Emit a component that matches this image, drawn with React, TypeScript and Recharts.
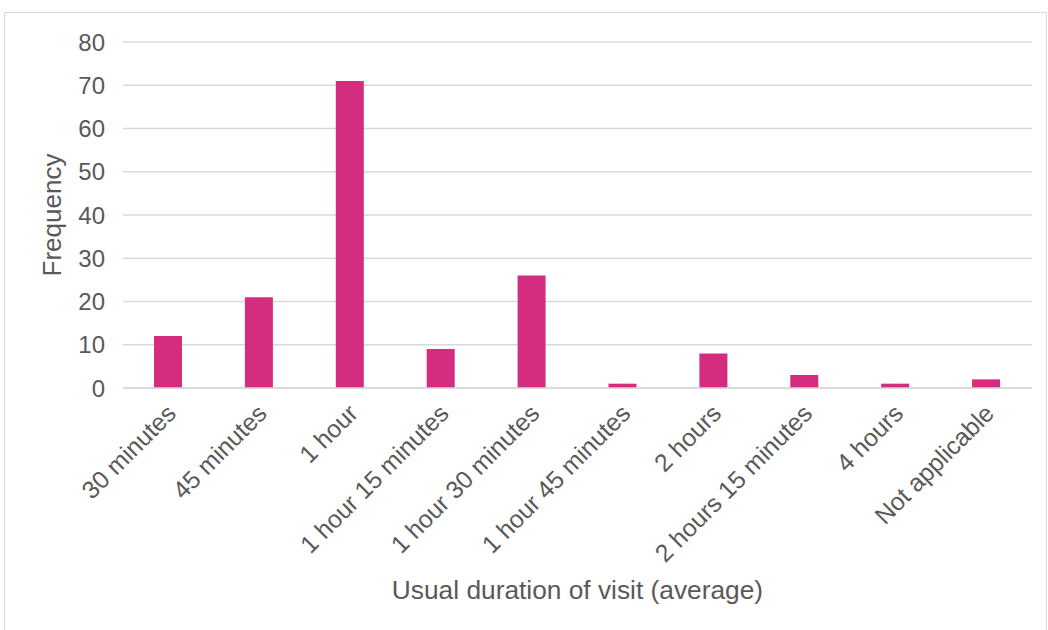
import React from "react";
import { BarChart, Bar, XAxis, YAxis, CartesianGrid } from "recharts";

const categories = [
  "30 minutes",
  "45 minutes",
  "1 hour",
  "1 hour 15 minutes",
  "1 hour 30 minutes",
  "1 hour 45 minutes",
  "2 hours",
  "2 hours 15 minutes",
  "4 hours",
  "Not applicable",
];
const frequencies = [12, 21, 71, 9, 26, 1, 8, 3, 1, 2];
const yTicks = [0, 10, 20, 30, 40, 50, 60, 70, 80];

const data = categories.map((c, i) => ({ name: c, value: frequencies[i] }));

const FONT = '"Liberation Sans", Arial, sans-serif';
const TEXT = "#595959";

const XTick = (props: any) => {
  const { x, y, payload } = props;
  return (
    <g transform={`translate(${x + 9},${y + 19})`}>
      <text
        x={0}
        y={0}
        transform="rotate(-45)"
        textAnchor="end"
        fill={TEXT}
        fontSize={24.7}
        fontFamily={FONT}
      >
        {payload.value}
      </text>
    </g>
  );
};

export default function App() {
  return (
    <div style={{ position: "absolute", left: 0, top: 0, width: 1048, height: 630, background: "#fff" }}>
      <div
        style={{
          position: "absolute",
          left: 4,
          top: 12,
          width: 1043,
          height: 640,
          border: "1px solid #D9D9D9",
          boxSizing: "border-box",
        }}
      />
      <div style={{ position: "absolute", left: 0, top: 0 }}>
        <BarChart
          width={1048}
          height={630}
          data={data}
          margin={{ top: 42, right: 16, left: 0, bottom: 0 }}
          barCategoryGap={0}
        >
          <CartesianGrid vertical={false} stroke="#D9D9D9" strokeWidth={1.3} />
          <XAxis
            dataKey="name"
            height={242}
            interval={0}
            tickLine={false}
            axisLine={{ stroke: "#D9D9D9", strokeWidth: 1.3 }}
            tick={<XTick />}
            label={{
              value: "Usual duration of visit (average)",
              position: "insideBottom",
              offset: 31,
              fill: TEXT,
              fontSize: 26.3,
              fontFamily: FONT,
            }}
          />
          <YAxis
            width={123}
            domain={[0, 80]}
            ticks={yTicks}
            interval={0}
            tickLine={false}
            axisLine={false}
            tickMargin={12}
            tick={{ fill: TEXT, fontSize: 24, fontFamily: FONT }}
            label={{
              value: "Frequency",
              angle: -90,
              position: "insideLeft",
              offset: 52,
              fill: TEXT,
              fontSize: 26,
              fontFamily: FONT,
              style: { textAnchor: "middle" },
            }}
          />
          <Bar dataKey="value" fill="#D42C7E" barSize={28} isAnimationActive={false} />
        </BarChart>
      </div>
    </div>
  );
}
